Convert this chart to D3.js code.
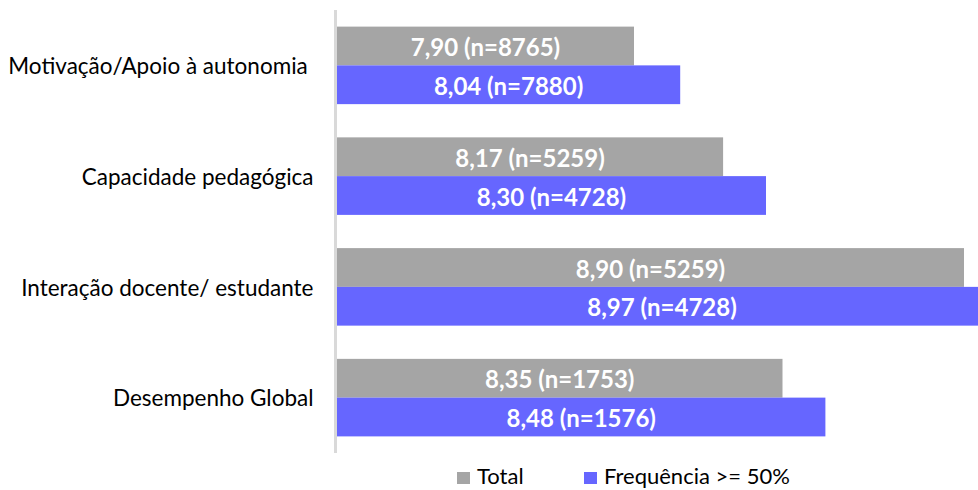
<!DOCTYPE html>
<html><head><meta charset="utf-8">
<script src="https://cdn.jsdelivr.net/npm/d3@7"></script>
<style>body{margin:0;background:#fff}svg{display:block}</style>
</head><body>
<svg id="c" width="978" height="490"></svg>
<script>
const categories = ["Motivação/Apoio à autonomia ", "Capacidade pedagógica", "Interação docente/ estudante", "Desempenho Global"];
const seriesNames = ["Total", "Frequência >= 50%"];
const totalValues = [7.90, 8.17, 8.90, 8.35];
const totalN = [8765, 5259, 5259, 1753];
const freqValues = [8.04, 8.30, 8.97, 8.48];
const freqN = [7880, 4728, 4728, 1576];
const colors = ["#a5a5a5", "#6666ff"];

const svg = d3.select("#c");
const font = "Lato, 'Open Sans', sans-serif";
const x = d3.scaleLinear().domain([7, 9]).range([337, 997]);
const y = d3.scaleBand().domain(categories).range([10, 453]).paddingInner(0.3).paddingOuter(0.15);
const sub = d3.scaleBand().domain([0, 1]).range([0, y.bandwidth()]);

const data = [];
categories.forEach((c, i) => {
  data.push({c, s: 0, v: totalValues[i], n: totalN[i]});
  data.push({c, s: 1, v: freqValues[i], n: freqN[i]});
});
const fmt = v => d3.format(".2f")(v).replace(".", ",");

svg.selectAll("rect.bar").data(data).join("rect")
  .attr("x", x(7)).attr("y", d => y(d.c) + sub(d.s))
  .attr("width", d => x(d.v) - x(7)).attr("height", sub.bandwidth())
  .attr("fill", d => colors[d.s]);

svg.selectAll("text.lbl").data(data).join("text")
  .attr("x", d => (x(7) + x(d.v)) / 2).attr("y", d => y(d.c) + sub(d.s) + sub.bandwidth() / 2)
  .attr("dy", "0.42em").attr("text-anchor", "middle")
  .attr("fill", "#fff").attr("font-weight", "bold").attr("font-size", 24).attr("font-family", font)
  .text(d => `${fmt(d.v)} (n=${d.n})`);

// axis
const ax = svg.append("g").attr("transform", `translate(${x(7) - 1.5},0)`).call(d3.axisLeft(y).tickSize(0).tickPadding(22));
ax.select(".domain").attr("stroke", "#d9d9d9").attr("stroke-width", 3).attr("d", "M0,10V453");
ax.selectAll("text").attr("font-size", 22.5).attr("font-family", font).attr("fill", "#000").attr("dy", "0.39em")
  .attr("xml:space", "preserve").style("white-space", "pre");

// legend
const leg = [{x: 457, s: 0}, {x: 584, s: 1}];
leg.forEach(l => {
  svg.append("rect").attr("x", l.x).attr("y", 472).attr("width", 13).attr("height", 12).attr("fill", colors[l.s]);
  svg.append("text").attr("x", l.x + 20).attr("y", 484).attr("font-size", 22).attr("font-family", font).attr("fill", "#000").text(seriesNames[l.s]);
});
</script>
</body></html>
